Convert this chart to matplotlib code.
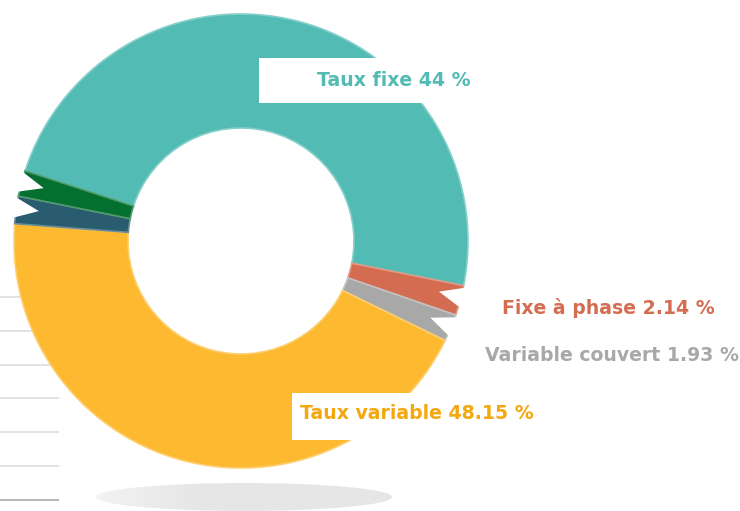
import numpy as np
import matplotlib
matplotlib.use("Agg")
import matplotlib.pyplot as plt
from matplotlib.patches import Polygon, Rectangle, Ellipse
import matplotlib.colors as mcolors

# ---- data (clockwise from the upper-left) ----
slice_names = ["Taux fixe", "Fixe à phase", "Variable couvert", "Taux variable", "Autre 1", "Autre 2"]
slice_values = [48.15, 2.14, 1.93, 44.0, 1.95, 1.83]
slice_colors = ["#52BBB3", "#D46C51", "#A8A8A8", "#FDB930", "#285C6E", "#04702F"]
label_texts = ["Taux fixe 44 %", "Fixe à phase 2.14 %", "Variable couvert 1.93 %", "Taux variable 48.15 %"]
label_colors = ["#52BBB3", "#D46C51", "#A8A8A8", "#F4A810"]
small_slices = [1, 2, 4, 5]
grid_rows = [0, 1, 2, 3, 4, 5, 6]

W, H = 740, 511
fig = plt.figure(figsize=(W / 100, H / 100), dpi=100)
ax = fig.add_axes([0, 0, 1, 1])

def sy(y):
    return H - y

FONT = ["DejaVu Sans"]
FS = 13.6

# background grid lines (partially hidden by the donut)
for i in grid_rows:
    yy = sy(297 + i * 33.8)
    ax.plot([0, 59], [yy, yy], color="#AAAAAA" if i == grid_rows[-1] else "#DDDDDD",
            lw=1.2, zorder=1, solid_capstyle="butt")

# shadow ellipse with light gradient
ell = Ellipse((244, sy(497)), 296, 28, facecolor="none", edgecolor="none", zorder=1)
ax.add_patch(ell)
grad = np.linspace(0, 1, 256)
grad = np.clip(grad / 0.35, 0, 1)
cmap = mcolors.LinearSegmentedColormap.from_list("sh", ["#F3F3F3", "#E6E6E6"])
im = ax.imshow(grad[None, :], extent=[96, 392, sy(511), sy(483)], cmap=cmap,
               aspect="auto", zorder=1, interpolation="bilinear")
im.set_clip_path(ell)

# donut
cx, cy = 241, sy(241)
R, r_in = 227, 113
wedges, _ = ax.pie(slice_values, colors=slice_colors, startangle=162, counterclock=False,
                   radius=R, center=(cx, cy),
                   wedgeprops=dict(width=R - r_in, linewidth=1.2))
for w, c in zip(wedges, slice_colors):
    rgb = np.array(mcolors.to_rgb(c))
    w.set_edgecolor(tuple(rgb + (1 - rgb) * 0.3))
    w.set_zorder(2)

# V-shaped notches on the small slices
for i in small_slices:
    w = wedges[i]
    t1, t2 = w.theta1, w.theta2
    if np.sin(np.radians(t1)) >= np.sin(np.radians(t2)):
        up, d = t1, 1
    else:
        up, d = t2, -1
    width = abs(t2 - t1)
    out_off = min(width, 6.0)
    notch_off = out_off * 0.5
    pts = []
    for ang, rr in [(up, R * 1.03), (up + d * notch_off, R * 0.9), (up + d * out_off, R * 1.03)]:
        a = np.radians(ang)
        pts.append((cx + rr * np.cos(a), cy + rr * np.sin(a)))
    ax.add_patch(Polygon(pts, closed=True, facecolor="white", edgecolor="none", zorder=3))

# labels
ax.add_patch(Rectangle((259, sy(103)), 231, 45, facecolor="white", edgecolor="none", zorder=4))
ax.text(317, sy(80), label_texts[0], color=label_colors[0], fontsize=FS, fontweight="bold",
        family=FONT, ha="left", va="center", zorder=5)
ax.add_patch(Rectangle((292, sy(440)), 250, 47, facecolor="white", edgecolor="none", zorder=4))
ax.text(300, sy(413), label_texts[3], color=label_colors[3], fontsize=FS, fontweight="bold",
        family=FONT, ha="left", va="center", zorder=5)
ax.text(502, sy(308), label_texts[1], color=label_colors[1], fontsize=FS, fontweight="bold",
        family=FONT, ha="left", va="center", zorder=5)
ax.text(485, sy(355), label_texts[2], color=label_colors[2], fontsize=FS, fontweight="bold",
        family=FONT, ha="left", va="center", zorder=5)

ax.set_xlim(0, W)
ax.set_ylim(0, H)
ax.set_aspect("auto")
ax.axis("off")
fig.savefig("out.png", dpi=100, facecolor="white")
